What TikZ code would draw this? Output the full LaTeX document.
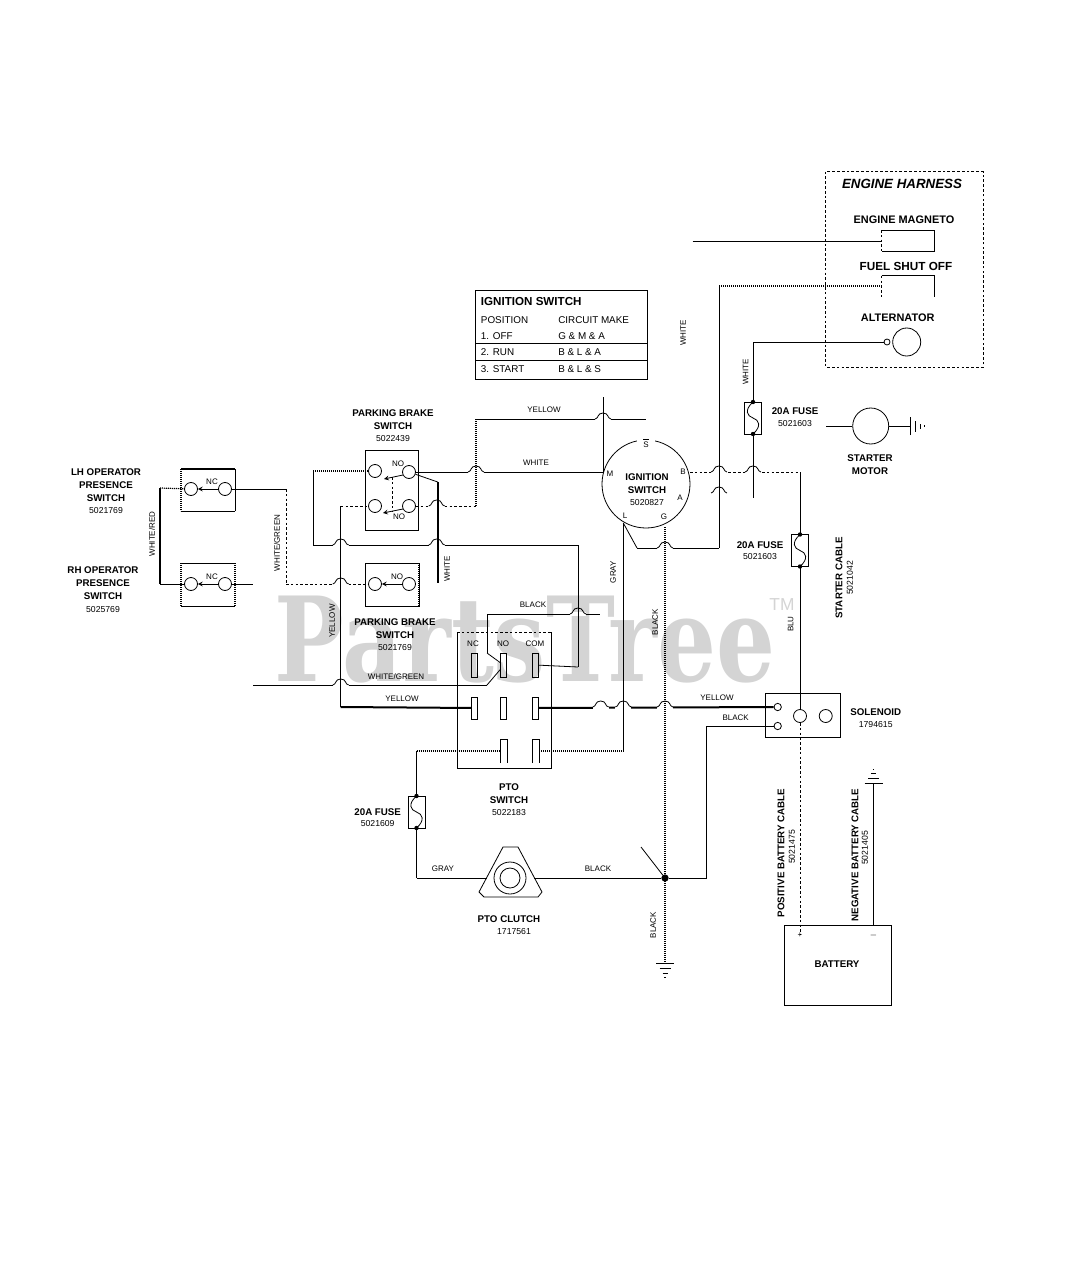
\documentclass[tikz,border=0pt]{standalone}
\usepackage{fontspec}
\setmainfont{Liberation Sans}
\newfontfamily\markfont{DejaVu Serif}
\definecolor{markgray}{HTML}{D4D4D4}
\tikzset{
  wire/.style={line width=0.6pt},
  heavy/.style={line width=1.5pt},
  dashw/.style={line width=0.6pt,dash pattern=on 2pt off 1.6pt},
  dotw/.style={line width=0.9pt,dash pattern=on 0.9pt off 0.6pt},
  term/.style={circle,draw,line width=0.6pt,inner sep=0pt,minimum size=9.75pt},
  tab/.style={rectangle,draw,line width=0.6pt,inner sep=0pt,minimum width=4.5pt},
  jdot/.style={circle,fill,inner sep=0pt,minimum size=5.5pt},
  lbl/.style={font=\fontsize{6}{7}\selectfont,inner sep=0pt},
  lblv/.style={lbl,rotate=90},
  num/.style={font=\fontsize{6.5}{8}\selectfont,inner sep=0pt},
  ttl/.style={font=\fontsize{7.3}{9.75}\selectfont\bfseries,align=center,inner sep=0pt},
  ttlv/.style={ttl,rotate=90},
  hrn/.style={font=\fontsize{8.2}{10}\selectfont\bfseries,inner sep=0pt},
  tbl/.style={font=\fontsize{7.4}{9}\selectfont,anchor=west,inner sep=0pt},
  hop/.pic={
    \fill[white] (-8,-1.6) rectangle (8,1.6);
    \draw[wire] (-8,0) .. controls (-4,-0.5) and (-6,-6) .. (0,-6) .. controls (6,-6) and (4,-0.5) .. (8,0);
  },
  gnd/.pic={
    \foreach \d/\w in {0/9,5/5.5,10/2.5,14/0.7}
      \draw[wire] (-\w,\d) -- (\w,\d);
  },
  fuse/.pic={
    \coordinate (-top) at (0,-16);
    \coordinate (-bot) at (0,16);
    \draw[wire] (-8.5,-16) rectangle (8.5,16);
    \draw[wire] (0,-16) .. controls (-9,-8) and (-6,-2) .. (0,0) .. controls (6,2) and (9,8) .. (0,16);
    \fill (0,-16) circle (2.2);
    \fill (0,16) circle (2.2);
  }
}
\begin{document}
\begin{tikzpicture}[x=0.75pt,y=-0.75pt]
\useasboundingbox (0,0) rectangle (1067,1280);

% watermark
\node[text=markgray,font=\fontsize{88}{90}\selectfont\markfont\bfseries,xscale=0.79,inner sep=0pt] (mark) at (525,640) {PartsTree};
\node[text=markgray,font=\fontsize{13}{14}\selectfont,inner sep=0pt] (tm) at (782,605) {TM};

% operator switches
\draw[wire] (235,511) -- (181,511);
\draw[heavy] (181,469) -- (235,469);
\draw[wire] (235,469) -- (235,511);
\draw[dotw] (181,469) -- (181,511);
\draw[wire] (181,563) -- (235,563);
\draw[wire] (181,606) -- (235,606);
\draw[dotw] (181,563) -- (181,606);
\draw[dotw] (235,563) -- (235,606);
\node[term] (lhl) at (191,489) {};
\node[term] (lhr) at (225,489) {};
\node[term] (rhl) at (191,584) {};
\node[term] (rhr) at (225,584) {};
\draw[wire,-stealth] (lhr) -- (lhl);
\draw[wire,-stealth] (rhr) -- (rhl);
\node[lbl] (lhnc) at (212,482) {NC};
\node[lbl] (rhnc) at (212,577) {NC};
\node[ttl] (lhtxt) at (106,485.5) {LH OPERATOR\\PRESENCE\\SWITCH};
\node[num] (lhnum) at (106,511) {5021769};
\node[ttl] (rhtxt) at (103,583.5) {RH OPERATOR\\PRESENCE\\SWITCH};
\node[num] (rhnum) at (103,610) {5025769};
\coordinate (wra) at (160,488);
\coordinate (wrb) at (160,584);
\coordinate (wga) at (286,489);
\coordinate (wgb) at (286,584);
\coordinate (rhs) at (253,584);
\draw[dotw] (wra) -- (lhl);
\draw[wire] (wrb) -- (rhl);
\draw[wire] (rhr) -- (rhs);
\draw[wire] (lhr) -- (wga);
\node[lblv] (wrtxt) at (152,534) {WHITE/RED};
\node[lblv] (wgtxt) at (277,543) {WHITE/GREEN};

% parking brake switches
\draw[wire] (365,450) rectangle (418,530);
\draw[wire] (365,563) rectangle (419,606);
\draw[dotw] (419,563) -- (419,606);
\node[term] (paa) at (375,471) {};
\node[term] (pab) at (409,472) {};
\node[term] (pac) at (375,506) {};
\node[term] (pad) at (409,506) {};
\node[term] (pba) at (375,584) {};
\node[term] (pbb) at (409,584) {};
\draw[wire,-stealth] (403,475) -- (384,479);
\draw[wire,-stealth] (403,509) -- (383,513);
\draw[dashw] (392,477) -- (392,512);
\draw[wire,-stealth] (pbb) -- (pba);
\node[lbl] (pano) at (398,464) {NO};
\node[lbl] (panc) at (399,517) {NO};
\node[lbl] (pbno) at (397,577) {NO};
\node[ttl] (patxt) at (393,419.5) {PARKING BRAKE\\SWITCH};
\node[num] (panum) at (393,439) {5022439};
\node[ttl] (pbtxt) at (395,629) {PARKING BRAKE\\SWITCH};
\node[num] (pbnum) at (395,648) {5021769};

% ignition table
\draw[wire] (475.7,290) rectangle (647.3,379.3);
\draw[wire] (475.7,343.3) -- (647.3,343.3);
\draw[wire] (475.7,360.3) -- (647.3,360.3);
\node[tbl,font=\fontsize{8.7}{10}\selectfont\bfseries] (tbt) at (480.7,301.5) {IGNITION SWITCH};
\node[tbl] (tba) at (480.7,320) {POSITION};
\node[tbl] (tbb) at (558,320) {CIRCUIT MAKE};
\node[tbl] (tbc) at (480.7,336.5) {1. OFF};
\node[tbl] (tbd) at (558,336.5) {G \& M \& A};
\node[tbl] (tbe) at (480.7,352.5) {2. RUN};
\node[tbl] (tbf) at (558,352.5) {B \& L \& A};
\node[tbl] (tbg) at (480.7,369.3) {3. START};
\node[tbl] (tbh) at (558,369.3) {B \& L \& S};

% ignition switch
\node[circle,draw,line width=0.6pt,inner sep=0pt,minimum size=66pt] (ign) at (646,484) {};
\node[lbl,fill=white,minimum width=13pt,minimum height=7pt] (igs) at (646,443) {$\overline{\mbox{S}}$};
\node[lbl] (igmt) at (610,474) {M};
\node[lbl] (igbt) at (683,472) {B};
\node[lbl] (igat) at (680,498) {A};
\node[lbl] (iglt) at (625,516) {L};
\node[lbl] (iggt) at (664,517) {G};
\node[ttl] (igtxt) at (647,484) {IGNITION\\SWITCH};
\node[num] (ignum) at (647,503) {5020827};
\coordinate (igm) at (603,472);
\coordinate (igb) at (690,472);
\coordinate (igl) at (623.3,523);
\coordinate (igg) at (665,527);
\coordinate (igtop) at (603,397);

% PTO switch
\draw[wire] (457,632) -- (457,768) -- (551,768) -- (551,632);
\draw[dashw] (457,632) -- (551,632);
\foreach \c/\x in {a/474.5,b/503.5,c/535.5} {
  \node[tab,minimum height=18pt] (top\c) at (\x,665) {};
  \node[tab,fill=white,minimum height=16.5pt] (mid\c) at (\x,708) {};
}
\foreach \x in {503.5,535.5}
  \draw[wire] (\x-3.5,763) -- (\x-3.5,739) -- (\x+3.5,739) -- (\x+3.5,763);
\node[lbl] (pnc) at (473,644) {NC};
\node[lbl] (pno) at (503,644) {NO};
\node[lbl] (pcm) at (535,644) {COM};
\node[ttl] (pttxt) at (509,794) {PTO\\SWITCH};
\node[num] (ptnum) at (509,813) {5022183};
\coordinate (ptl) at (500,751);
\coordinate (ptr) at (539,751);

% PTO clutch
\draw[wire] (503,847) -- (518,847) -- (542,892) -- (538,897) -- (484,897) -- (479,892) -- cycle;
\node[circle,draw,line width=0.6pt,inner sep=0pt,minimum size=24pt] (clu) at (510,878) {};
\node[circle,draw,line width=0.6pt,inner sep=0pt,minimum size=15pt] (cli) at (510,878) {};
\coordinate (cla) at (487,878);
\coordinate (clb) at (534,878);
\node[ttl] (cltxt) at (509,919) {PTO CLUTCH};
\node[num] (clnum) at (514,932) {1717561};

% fuses
\pic (fa) at (753,418) {fuse};
\pic (fb) at (800,550.5) {fuse};
\pic (fc) at (416.5,812) {fuse};
\node[ttl] (fatxt) at (795,411) {20A FUSE};
\node[num] (fanum) at (795,424) {5021603};
\node[ttl] (fbtxt) at (760,545) {20A FUSE};
\node[num] (fbnum) at (760,557) {5021603};
\node[ttl] (fctxt) at (377.7,811.7) {20A FUSE};
\node[num] (fcnum) at (377.7,824) {5021609};

% engine harness
\draw[dashw] (825.7,171.7) rectangle (983,367);
\node[hrn,font=\fontsize{10}{12}\selectfont\bfseries\itshape] (ehtxt) at (902,184) {ENGINE HARNESS};
\node[hrn] (mgtxt) at (904,220) {ENGINE MAGNETO};
\node[hrn,font=\fontsize{8.8}{10}\selectfont\bfseries] (fstxt) at (906,266) {FUEL SHUT OFF};
\node[hrn] (altxt) at (897.7,318) {ALTERNATOR};
\draw[wire] (881.7,230) -- (934,230) -- (934,251) -- (881.7,251);
\draw[dashw] (881.7,230) -- (881.7,251);
\draw[wire] (881.7,275.7) -- (934,275.7) -- (934,296.7);
\draw[dashw] (881.7,275.7) -- (881.7,296.7);
\node[circle,draw,line width=0.6pt,inner sep=0pt,minimum size=21pt] (alt) at (906.7,342) {};
\node[circle,draw,line width=0.6pt,inner sep=0pt,minimum size=4.5pt] (alts) at (887,342) {};
\coordinate (mga) at (692.7,241);
\coordinate (mgb) at (881.7,241);
\coordinate (fsa) at (719,286);
\coordinate (fsb) at (881.7,286);
\coordinate (ala) at (753,342);
\draw[wire] (mga) -- (mgb);
\draw[dotw] (fsa) -- (fsb);
\draw[wire] (ala) -- (alts);
\draw[wire] (ala) -- (fa-top);

% starter motor
\node[circle,draw,line width=0.6pt,inner sep=0pt,minimum size=27pt] (mot) at (870.7,426) {};
\coordinate (mots) at (826,426);
\coordinate (motg) at (910,426);
\draw[wire] (mots) -- (mot);
\draw[wire] (mot) -- (motg);
\pic[rotate=90] at (motg) {gnd};
\node[ttl] (mottxt) at (870,464.5) {STARTER\\MOTOR};

% solenoid
\draw[wire] (765.7,693) rectangle (840.7,737);
\node[term,minimum size=5.5pt] (soly) at (777.7,707) {};
\node[term,minimum size=5.5pt] (solk) at (777.7,726) {};
\node[term] (sola) at (800,716) {};
\node[term] (solb) at (825.7,716) {};
\node[hrn,font=\fontsize{7.3}{9}\selectfont\bfseries] (soltxt) at (875.7,712) {SOLENOID};
\node[num] (solnum) at (875.7,725) {1794615};

% battery
\draw[wire] (784,925) rectangle (891,1005);
\node[lbl] (bplus) at (800,935) {+};
\node[lbl] (bminus) at (873.5,935) {$-$};
\node[ttl] (battxt) at (837,964) {BATTERY};
\node[ttlv] (pbtxt2) at (781,853) {POSITIVE BATTERY CABLE};
\node[lblv,font=\fontsize{6.5}{8}\selectfont] (pbnum2) at (792,847) {5021475};
\node[ttlv] (nbtxt) at (855,855) {NEGATIVE BATTERY CABLE};
\node[lblv,font=\fontsize{6.5}{8}\selectfont] (nbnum) at (865,848) {5021405};
\node[ttlv] (sctxt) at (839,578) {STARTER CABLE};
\node[lblv,font=\fontsize{6.5}{8}\selectfont] (scnum) at (850,578) {5021042};

% horizontal wires
\coordinate (yla) at (340.7,506);
\coordinate (ylb) at (340.7,707);
\coordinate (wta) at (476,506);
\coordinate (wtb) at (476,419);
\coordinate (wtc) at (646,419);
\coordinate (bka) at (313,471);
\coordinate (bkb) at (313,545);
\coordinate (bkc) at (578,545);
\coordinate (bkd) at (578,667);
\coordinate (wha) at (437.7,482);
\coordinate (whb) at (437.7,583);
\coordinate (wgc) at (368,584);
\coordinate (gna) at (253,685);
\coordinate (gnb) at (487,685);
\coordinate (gnc) at (500.7,669);
\coordinate (bla) at (487,653);
\coordinate (blb) at (487,614);
\coordinate (blc) at (600,614);
\coordinate (gya) at (623.3,751);
\coordinate (stl) at (637,548);
\coordinate (str) at (719,548);
\coordinate (blu) at (800,472);
\coordinate (fua) at (416.5,751);
\coordinate (fub) at (416.5,878);
\coordinate (sbk) at (706.5,878);
\coordinate (sbl) at (706.5,726);
\node[jdot] (jn) at (665,878) {};
\coordinate (jst) at (641,847);
\coordinate (gnd1) at (665,963);
\coordinate (gnd2) at (873.5,783);
\draw[wire] (pab) -- (igm);
\draw[dotw] (bka) -- (paa);
\draw[wire] (bkb) -- (bkc);
\draw[dashw] (yla) -- (pac);
\draw[dashw] (pad) -- (wta);
\draw[wire] (wtb) -- (wtc);
\draw[dashw] (wgb) -- (wgc);
\draw[wire] (gna) -- (gnb);
\draw[wire] (blb) -- (blc);
\draw[heavy] (ylb) -- (mida);
\draw[heavy] (midc) -- (soly);
\draw[dotw] (fua) -- (ptl);
\draw[dotw] (ptr) -- (gya);
\draw[wire] (stl) -- (str);
\draw[dashw] (igb) -- (blu);
\draw[wire] (fub) -- (cla);
\draw[wire] (clb) -- (jn);
\draw[wire] (jn) -- (sbk);
\draw[wire] (sbl) -- (solk);
\draw[wire] (bkd) -- (topc);

% hops
\foreach \x/\y in {340.7/545,340.7/584,340.7/685,436.7/506,436.7/545,476/472,603/419,578/614,
    600.7/707,623.3/707,665/707,665/548,719/472,753/472}
  \pic at (\x,\y) {hop};
\draw[wire] (711,493) .. controls (715,492.5) and (713,487) .. (719,487) .. controls (725,487) and (723,492.5) .. (727,493);

% vertical wires
\draw[heavy] (wra) -- (wrb);
\draw[wire] (bka) -- (bkb);
\draw[wire] (yla) -- (ylb);
\draw[dashw] (wga) -- (wgb);
\draw[wire] (pab) -- (wha);
\draw[heavy] (wha) -- (whb);
\draw[dotw] (wta) -- (wtb);
\draw[wire] (igtop) -- (igm);
\draw[wire] (igl) -- (gya);
\draw[wire] (igl) -- (stl);
\draw[dotw] (igg) -- (gnd1);
\draw[wire] (fsa) -- (str);
\draw[wire] (fa-bot) -- (753,498);
\draw[wire] (blu) -- (fb-top);
\draw[wire] (fb-bot) -- (sola);
\draw[dashw] (sola) -- (800,935);
\draw[wire] (bkc) -- (bkd);
\draw[wire] (bla) -- (blb);
\draw[wire] (bla) -- (topb);
\draw[wire] (gnb) -- (gnc);
\draw[wire] (fua) -- (fc-top);
\draw[wire] (fc-bot) -- (fub);
\draw[wire] (jn) -- (jst);
\draw[wire] (sbk) -- (sbl);
\draw[wire] (gnd2) -- (873.5,925);
\pic at (gnd1) {gnd};
\pic[yscale=-1] at (gnd2) {gnd};

% wire labels
\node[lbl] (ylw1) at (544,410) {YELLOW};
\node[lbl] (wht1) at (536,463) {WHITE};
\node[lblv] (wht2) at (447,569) {WHITE};
\node[lblv] (ylw2) at (332,621) {YELLOW};
\node[lbl] (wgn2) at (396,677) {WHITE/GREEN};
\node[lbl] (ylw3) at (402,699) {YELLOW};
\node[lbl] (blk1) at (533,605) {BLACK};
\node[lblv] (gry1) at (613,572) {GRAY};
\node[lblv] (blk2) at (655,622) {BLACK};
\node[lblv] (blk3) at (653,925) {BLACK};
\node[lbl] (ylw4) at (717,698) {YELLOW};
\node[lbl] (blk4) at (735.7,718) {BLACK};
\node[lbl] (gry2) at (443,869) {GRAY};
\node[lbl] (blk5) at (598,869) {BLACK};
\node[lblv] (blu1) at (790.7,624) {BLU};
\node[lblv] (wht3) at (683,333) {WHITE};
\node[lblv] (wht4) at (745.7,372) {WHITE};
\end{tikzpicture}
\end{document}
